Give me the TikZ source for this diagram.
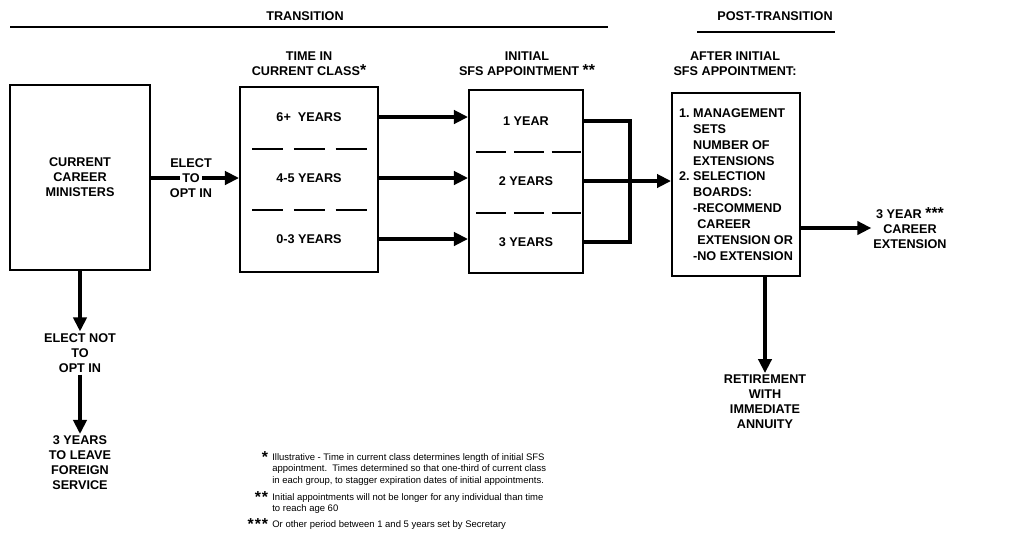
\documentclass[tikz,border=0pt]{standalone}
\usepackage{fontspec}
\setmainfont{Liberation Sans}
\usetikzlibrary{positioning,arrows.meta}

\newcommand{\stars}[1]{{\fontsize{9}{9}\selectfont\bfseries #1}}

\begin{document}
\begin{tikzpicture}%
  [x=0.02cm,y=-0.02cm,
   txt/.style=
    {font=\fontsize{7.2}{8.5}\selectfont\bfseries,align=center,inner sep=1pt},
   box/.style=
    {draw,line width=1.1pt,txt},
   flow/.style={line width=2.3pt,-{Triangle[length=8pt,width=7.5pt]}},
   bar/.style={line width=2.3pt},
   divider/.style={line width=1.2pt},
   rule/.style={line width=1.7pt},
   remark/.style=
    {font=\fontsize{5.4}{6.5}\selectfont,align=left,inner sep=0pt},
   marker/.style={inner sep=0pt,anchor=north east}
  ]
  \useasboundingbox (0,0) rectangle (1010,548);
  % section headings
  \node[txt] (trans) at (305,16) {TRANSITION};
  \draw[rule] (10,27) -- (608,27);
  \node[txt] (posttrans) at (775,16) {POST-TRANSITION};
  \draw[rule] (697,32) -- (835,32);
  % column headings
  \node[txt] (timehead) at (309,64) {TIME IN\\CURRENT CLASS\stars{*}};
  \node[txt] (appthead) at (527,64) {INITIAL\\SFS APPOINTMENT \stars{**}};
  \node[txt] (posthead) at (735,64) {AFTER INITIAL\\SFS APPOINTMENT:};
  % boxes
  \node[box,minimum width=2.8cm,minimum height=3.7cm] (ministers)
    at (80,177.5) {CURRENT\\CAREER\\MINISTERS};
  \node[box,minimum width=2.76cm,minimum height=3.7cm] (timebox)
    at (309,179.5) {};
  \node[box,minimum width=2.28cm,minimum height=3.66cm] (apptbox)
    at (526,181.5) {};
  \node[box,minimum width=2.56cm,minimum height=3.66cm,align=left,
    font=\fontsize{7.2}{9}\selectfont\bfseries] (post) at (736,184.5)
    {1.\ MANAGEMENT\\\phantom{1.\ }SETS\\\phantom{1.\ }NUMBER OF\\
     \phantom{1.\ }EXTENSIONS\\2.\ SELECTION\\\phantom{2.\ }BOARDS:\\
     \phantom{2.\ }-RECOMMEND\\\phantom{2.\ -}CAREER\\
     \phantom{2.\ -}EXTENSION OR\\\phantom{2.\ }-NO EXTENSION};
  % rows of the time box
  \node[txt] (t6) at (309,117) {6+ \ YEARS};
  \node[txt] (t45) at (309,178) {4-5 YEARS};
  \node[txt] (t03) at (309,239) {0-3 YEARS};
  \foreach \y in {149,210}
    \draw[divider,dash pattern=on 17.6pt off 6.2pt] (252,\y) -- (367,\y);
  % rows of the appointment box
  \node[txt] (a1) at (526,121) {1 YEAR};
  \node[txt] (a2) at (526,181) {2 YEARS};
  \node[txt] (a3) at (526,242) {3 YEARS};
  \foreach \y in {152,213}
    \draw[divider,dash pattern=on 17pt off 4.5pt] (476,\y) -- (582,\y);
  % opt in
  \node[txt] (to) at (191,178) {TO};
  \node[txt] (elect) at (191,163) {ELECT};
  \node[txt] (optin) at (191,193) {OPT IN};
  \draw[bar] (ministers.east |- to) -- (to.west);
  \draw[flow] (to.east) -- (timebox.west |- to);
  \foreach \r in {t6,t45,t03}
    \draw[flow] (timebox.east |- \r) -- (apptbox.west |- \r);
  % join of the appointments
  \coordinate (join) at (630,181);
  \draw[bar,line join=miter] (apptbox.east |- a1) -- (a1 -| join)
    -- (a3 -| join) -- (apptbox.east |- a3);
  \draw[flow] (apptbox.east |- a2) -- (post.west |- a2);
  % outcomes
  \node[txt] (ext) at (910,228) {3 YEAR \stars{***}\\CAREER\\EXTENSION};
  \draw[flow] (post.east |- ext) -- (ext.west);
  \node[txt] (retire) at (765,402) {RETIREMENT\\WITH\\IMMEDIATE\\ANNUITY};
  \draw[flow] (post.south -| retire) -- (retire.north);
  \node[txt] (notopt) at (80,353) {ELECT NOT\\TO\\OPT IN};
  \draw[flow] (ministers.south -| notopt) -- (notopt.north);
  \node[txt] (leave) at (80,463) {3 YEARS\\TO LEAVE\\FOREIGN\\SERVICE};
  \draw[flow] (notopt.south) -- (leave.north);
  % footnotes
  \node[remark,anchor=north west] (note1) at (272,453)
    {Illustrative - Time in current class determines length of initial SFS\\
     appointment.\ \ Times determined so that one-third of current class\\
     in each group, to stagger expiration dates of initial appointments.};
  \node[remark,anchor=north west] (note2) at (272,493)
    {Initial appointments will not be longer for any individual than time\\
     to reach age 60};
  \node[remark,anchor=north west] (note3) at (272,520)
    {Or other period between 1 and 5 years set by Secretary};
  \node[marker] (mark1) at ([xshift=-2pt,yshift=1pt]note1.north west)
    {\stars{*}};
  \node[marker] (mark2) at ([xshift=-2pt,yshift=1pt]note2.north west)
    {\stars{*\hspace{0.6pt}*}};
  \node[marker] (mark3) at ([xshift=-2pt,yshift=1pt]note3.north west)
    {\stars{*\hspace{0.6pt}*\hspace{0.6pt}*}};
\end{tikzpicture}
\end{document}
